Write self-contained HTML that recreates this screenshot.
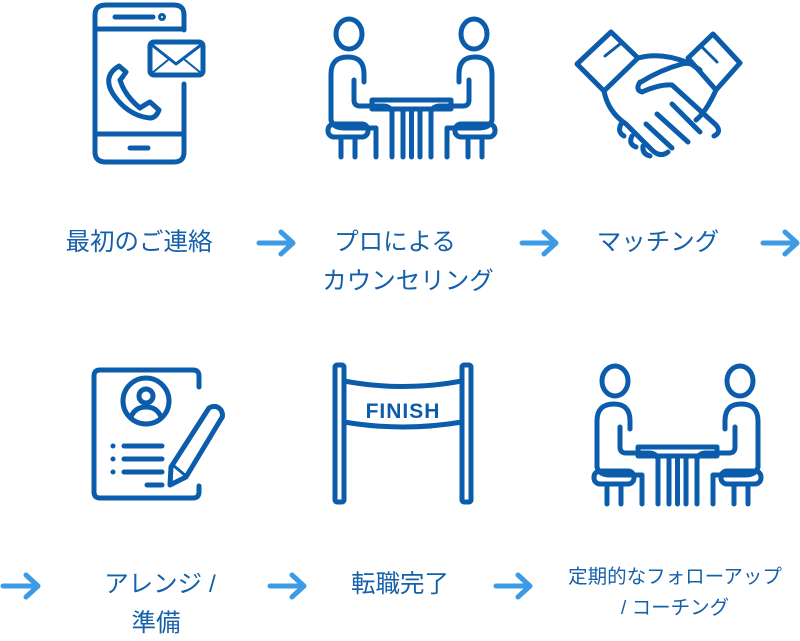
<!DOCTYPE html>
<html><head><meta charset="utf-8"><style>
html,body{margin:0;padding:0;background:#fff;}
body{width:800px;height:641px;overflow:hidden;position:relative;font-family:"Liberation Sans","Noto Sans CJK JP",sans-serif;}
svg{position:absolute;left:0;top:0;}
.t{position:absolute;color:#1560aa;font-size:24.5px;text-align:center;white-space:nowrap;line-height:1;}
.s{font-size:19.5px;}
</style></head><body>
<svg width="800" height="641" viewBox="0 0 800 641">
<g fill="none" stroke="#0b5cab" stroke-width="5" stroke-linecap="round" stroke-linejoin="round">
<path d="M184 30 V15 Q184 5 174 5 H106 Q95 5 95 15 V152 Q95 162 106 162 H174 Q184 162 184 152 V84"/>
<line x1="97" y1="29" x2="182" y2="29"/>
<line x1="97" y1="134" x2="182" y2="134"/>
<line x1="115" y1="17" x2="153" y2="17"/>
<circle cx="162" cy="17" r="1.5"/>
<line x1="130" y1="148" x2="148" y2="148"/>
<rect x="150" y="42" width="53" height="33" rx="4"/>
<path d="M152 45 L176 64 L201 45" stroke-width="3"/>
<path d="M152 73 L168 60 M201 73 L185 60" stroke-width="2"/>
<path d="M119 66 L126 72 Q122 78 120 80 Q125 96 140 108 Q146 104 150 102 L159 110 Q156 118 150 118 Q128 116 113 94 Q102 76 119 66 Z" stroke-width="5"/>
<g transform="translate(328,18)">
<ellipse cx="21" cy="16" rx="13" ry="15"/>
<path d="M3 102 V56 Q3 39 20 39 Q36 39 36 56 V64"/>
<path d="M26 62 V82 Q26 88 32 88 H55 Q62 88 64 94"/>
<path d="M3 102 Q5 110 16 110 H48 V139"/>
<rect x="0" y="106" width="40" height="13" rx="6"/>
<line x1="13" y1="119" x2="13" y2="139"/><line x1="27" y1="119" x2="27" y2="139"/>
<ellipse cx="146" cy="16" rx="13" ry="15"/>
<path d="M164 102 V56 Q164 39 147 39 Q131 39 131 56 V64"/>
<path d="M141 62 V82 Q141 88 135 88 H112 Q105 88 103 94"/>
<path d="M164 102 Q162 110 151 110 H119 V139"/>
<rect x="127" y="106" width="40" height="13" rx="6"/>
<line x1="154" y1="119" x2="154" y2="139"/><line x1="140" y1="119" x2="140" y2="139"/>
<rect x="44" y="82" width="79" height="9"/>
<line x1="64" y1="91" x2="64" y2="139"/><line x1="75" y1="91" x2="75" y2="139"/>
<line x1="83.5" y1="91" x2="83.5" y2="139"/><line x1="92" y1="91" x2="92" y2="139"/>
<line x1="103" y1="91" x2="103" y2="139"/>
</g>
<g transform="translate(594,365)">
<ellipse cx="21" cy="16" rx="13" ry="15"/>
<path d="M3 102 V56 Q3 39 20 39 Q36 39 36 56 V64"/>
<path d="M26 62 V82 Q26 88 32 88 H55 Q62 88 64 94"/>
<path d="M3 102 Q5 110 16 110 H48 V139"/>
<rect x="0" y="106" width="40" height="13" rx="6"/>
<line x1="13" y1="119" x2="13" y2="139"/><line x1="27" y1="119" x2="27" y2="139"/>
<ellipse cx="146" cy="16" rx="13" ry="15"/>
<path d="M164 102 V56 Q164 39 147 39 Q131 39 131 56 V64"/>
<path d="M141 62 V82 Q141 88 135 88 H112 Q105 88 103 94"/>
<path d="M164 102 Q162 110 151 110 H119 V139"/>
<rect x="127" y="106" width="40" height="13" rx="6"/>
<line x1="154" y1="119" x2="154" y2="139"/><line x1="140" y1="119" x2="140" y2="139"/>
<rect x="44" y="82" width="79" height="9"/>
<line x1="64" y1="91" x2="64" y2="139"/><line x1="75" y1="91" x2="75" y2="139"/>
<line x1="83.5" y1="91" x2="83.5" y2="139"/><line x1="92" y1="91" x2="92" y2="139"/>
<line x1="103" y1="91" x2="103" y2="139"/>
</g>
<polygon points="577,64 611,32 638,58 604,91"/>
<polygon points="688,58 713,34 740,63 716,90"/>
<line x1="605" y1="56" x2="620" y2="44" stroke-width="3"/>
<line x1="703" y1="48" x2="717" y2="62" stroke-width="3"/>
<path d="M638 58 Q660 52 686 62"/>
<path d="M604 91 Q608 112 626 124 L652 150 Q660 158 668 152"/>
<path d="M716 90 Q706 112 696 120"/>
<path d="M641 82 Q660 70 682 64 Q690 62 694 66 L700 70"/>
<path d="M640 82 Q635 90 642 92 Q660 84 672 85 L716 125 Q722 132 714 136"/>
<line x1="646" y1="124" x2="672" y2="148"/>
<line x1="657" y1="114" x2="688" y2="142"/>
<line x1="672" y1="104" x2="700" y2="132"/>
<path d="M621 124 Q617 132 624 136 M632 136 Q628 144 636 147 M643 146 Q642 154 650 156"/>
<path d="M199 387 V376 Q199 370 193 370 H100 Q94 370 94 376 V492 Q94 498 100 498 H193 Q199 498 199 492 V486"/>
<circle cx="146" cy="401" r="23"/>
<circle cx="146" cy="396" r="7"/>
<path d="M131 417 Q135 407 146 407 Q157 407 161 417"/>
<line x1="113" y1="446" x2="113" y2="446"/><line x1="113" y1="459" x2="113" y2="459"/><line x1="113" y1="472" x2="113" y2="472"/>
<line x1="124" y1="446" x2="162" y2="446"/><line x1="124" y1="459" x2="162" y2="459"/><line x1="124" y1="472" x2="162" y2="472"/>
<line x1="147" y1="485" x2="162" y2="485"/>
<path d="M209 408 Q216 404 221 410 Q224 416 221 419 L186 477 L170 485 L171 467 Z"/>
<line x1="174" y1="466" x2="186" y2="476" stroke-width="3"/>
<rect x="335" y="365" width="9" height="137" rx="2"/>
<rect x="462" y="365" width="9" height="137" rx="2"/>
<path d="M344 381 Q403 392 462 381"/>
<path d="M344 422 Q403 432 462 422"/>
</g>
<text x="403" y="418" text-anchor="middle" font-family="Liberation Sans, sans-serif" font-weight="bold" font-size="21" fill="#0b5cab" letter-spacing="1">FINISH</text>
<g fill="none" stroke="#3d9be6" stroke-width="5" stroke-linecap="round" stroke-linejoin="round">
<path d="M259 243 H292 M281 232 L293 243 L281 254"/>
<path d="M522 243 H555 M544 232 L556 243 L544 254"/>
<path d="M763 243 H796 M785 232 L797 243 L785 254"/>
<path d="M3 586 H37 M26 575 L38 586 L26 597"/>
<path d="M270 586 H303 M292 575 L304 586 L292 597"/>
<path d="M496 586 H529 M518 575 L530 586 L518 597"/>
</g>
</svg>
<div class="t" style="left:39px;width:200px;top:231px;">最初のご連絡</div>
<div class="t" style="left:295px;width:200px;top:231px;">プロによる</div>
<div class="t" style="left:308px;width:200px;top:270px;">カウンセリング</div>
<div class="t" style="left:558px;width:200px;top:231px;">マッチング</div>
<div class="t" style="left:60px;width:200px;top:573px;">アレンジ /</div>
<div class="t" style="left:56px;width:200px;top:612px;">準備</div>
<div class="t" style="left:300px;width:200px;top:573px;">転職完了</div>
<div class="t s" style="left:555px;width:240px;top:568px;">定期的なフォローアップ</div>
<div class="t s" style="left:555px;width:240px;top:599px;">/ コーチング</div>
</body></html>
